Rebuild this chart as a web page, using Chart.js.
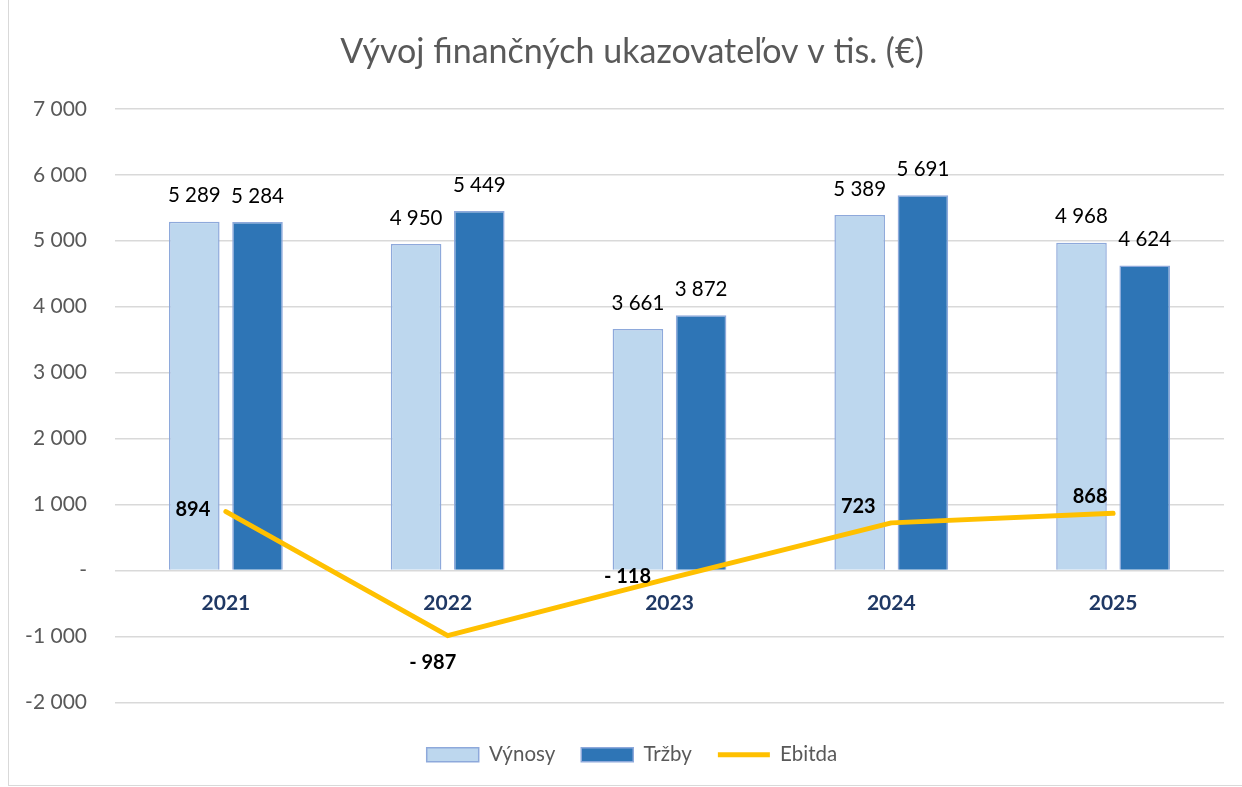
<!DOCTYPE html>
<html>
<head>
<meta charset="utf-8">
<script src="https://cdn.jsdelivr.net/npm/chart.js@4"></script>
<style>
  body { margin: 0; background: #fff; overflow: hidden; }
  #wrap {
    position: absolute; left: 8px; top: -1px;
    width: 1248px; height: 787px;
    border: 1px solid #d9d9d9; box-sizing: border-box;
  }
</style>
</head>
<body>
<div id="wrap"><canvas id="finChart"></canvas></div>
<script>
// data
const years = ['2021', '2022', '2023', '2024', '2025'];
const vynosy = [5289, 4950, 3661, 5389, 4968];
const trzby = [5284, 5449, 3872, 5691, 4624];
const ebitda = [894, -987, -118, 723, 868];

const FONT = 'Lato, "Open Sans", sans-serif';

// space as thousands separator, like the source
function fmt(v) {
  const s = Math.abs(v).toString().replace(/\B(?=(\d{3})+(?!\d))/g, ' ');
  return v < 0 ? '- ' + s : s;
}

// where each Ebitda label sits relative to its point (dx, dy)
const ebitdaLabelOffsets = [[-33, -2], [-15, 27], [-42, -2], [-33, -16], [-23, -17]];

const valueLabels = {
  id: 'valueLabels',
  afterDatasetsDraw(chart) {
    const ctx = chart.ctx;
    ctx.save();
    ctx.textAlign = 'center';
    ctx.textBaseline = 'middle';
    ctx.fillStyle = '#000';
    // bars
    [0, 1].forEach(di => {
      const meta = chart.getDatasetMeta(di);
      ctx.font = '20.5px ' + FONT;
      meta.data.forEach((bar, i) => {
        ctx.fillText(fmt(chart.data.datasets[di].data[i]), bar.x, bar.y - 26);
      });
    });
    // ebitda line
    const lm = chart.getDatasetMeta(2);
    ctx.font = 'bold 20px ' + FONT;
    lm.data.forEach((pt, i) => {
      const o = ebitdaLabelOffsets[i];
      ctx.fillText(fmt(ebitda[i]), pt.x + o[0], pt.y + o[1]);
    });
    ctx.restore();
  }
};

const ctx = document.getElementById('finChart').getContext('2d');
new Chart(ctx, {
  data: {
    labels: years,
    datasets: [
      {
        type: 'bar',
        label: 'Výnosy',
        data: vynosy,
        xAxisID: 'x',
        yAxisID: 'y',
        backgroundColor: '#BDD7EE',
        borderColor: '#8EA9DB',
        borderWidth: 1.5,
        barPercentage: 0.8,
        categoryPercentage: 0.57,
        order: 1
      },
      {
        type: 'bar',
        label: 'Tržby',
        data: trzby,
        xAxisID: 'x',
        yAxisID: 'y',
        backgroundColor: '#2E75B6',
        borderColor: '#8EA9DB',
        borderWidth: 1.5,
        barPercentage: 0.8,
        categoryPercentage: 0.57,
        order: 1
      },
      {
        type: 'line',
        label: 'Ebitda',
        data: ebitda,
        xAxisID: 'x',
        yAxisID: 'y',
        borderColor: '#FFC000',
        backgroundColor: '#FFC000',
        borderWidth: 5,
        borderCapStyle: 'round',
        borderJoinStyle: 'round',
        pointRadius: 0,
        tension: 0,
        order: 0
      }
    ]
  },
  options: {
    responsive: true,
    maintainAspectRatio: false,
    animation: false,
    layout: { padding: { left: 0, right: 0, top: 0, bottom: 10 } },
    plugins: {
      tooltip: { enabled: false },
      title: {
        display: true,
        text: 'Vývoj finančných ukazovateľov v tis. (€)',
        color: '#595959',
        font: { family: FONT, size: 34, weight: 'normal' },
        padding: { top: 32, bottom: 36 }
      },
      legend: {
        position: 'bottom',
        labels: {
          color: '#595959',
          font: { family: FONT, size: 20.5 },
          usePointStyle: true,
          pointStyleWidth: 52,
          boxHeight: 14,
          padding: 26,
          sort: (a, b) => a.datasetIndex - b.datasetIndex,
          generateLabels(chart) {
            const items = Chart.defaults.plugins.legend.labels.generateLabels(chart);
            items.forEach(it => {
              if (it.datasetIndex === 2) {
                it.pointStyle = 'line';
                it.lineWidth = 5;
                it.strokeStyle = '#FFC000';
              } else {
                it.pointStyle = 'rect';
                it.lineWidth = 1.5;
              }
            });
            return items;
          }
        }
      }
    },
    scales: {
      x: {
        position: { y: 0 },
        grid: { display: false, drawTicks: false },
        border: { display: false },
        ticks: {
          color: '#1F3864',
          font: { family: FONT, size: 21, weight: 'bold' },
          padding: 20
        }
      },
      y: {
        min: -2000,
        max: 7000,
        grid: { color: '#D9D9D9', lineWidth: 1.5, drawTicks: false },
        border: { display: false },
        ticks: {
          stepSize: 1000,
          color: '#595959',
          font: { family: FONT, size: 21 },
          padding: 28,
          callback: v => v === 0 ? '-' : (v < 0 ? '-' : '') + Math.abs(v).toString().replace(/\B(?=(\d{3})+(?!\d))/g, ' ')
        },
        afterFit(scale) { scale.width = 106; }
      },
      // empty spacer axes: room between plot and legend, and on the right
      gap: {
        type: 'category',
        position: 'bottom',
        grid: { display: false, drawTicks: false },
        border: { display: false },
        ticks: { display: false },
        afterFit(scale) { scale.height = 16; }
      },
      rgap: {
        type: 'linear',
        position: 'right',
        grid: { display: false, drawTicks: false },
        border: { display: false },
        ticks: { display: false },
        afterFit(scale) { scale.width = 31; }
      }
    }
  },
  plugins: [valueLabels]
});
</script>
</body>
</html>
